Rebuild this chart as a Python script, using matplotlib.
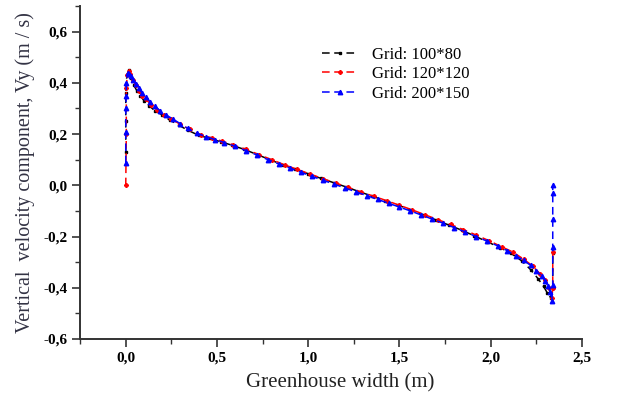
import matplotlib
matplotlib.use("Agg")
import matplotlib.pyplot as plt
from matplotlib.ticker import MultipleLocator, FuncFormatter

# Grid 100*80
x_g1 = [0.0, 0.0, 0.0, 0.006, 0.016, 0.03, 0.045, 0.06, 0.08, 0.10, 0.13, 0.16,
        0.20, 0.24, 0.29, 0.34, 0.40, 0.46, 0.52, 0.58, 0.65, 0.72, 0.79, 0.86,
        0.93, 1.00, 1.07, 1.14, 1.21, 1.28, 1.35, 1.42, 1.49, 1.56, 1.63, 1.70,
        1.77, 1.84, 1.91, 1.98, 2.05, 2.11, 2.17, 2.22, 2.26, 2.29, 2.31, 2.33,
        2.34, 2.34]
y_g1 = [0.13, 0.25, 0.36, 0.43, 0.45, 0.42, 0.39, 0.37, 0.35, 0.33, 0.31, 0.29,
        0.275, 0.255, 0.235, 0.215, 0.195, 0.183, 0.17, 0.157, 0.14, 0.12, 0.10, 0.08,
        0.062, 0.045, 0.027, 0.01, -0.007, -0.025, -0.042, -0.06, -0.077, -0.095,
        -0.115, -0.135, -0.155, -0.175, -0.197, -0.22, -0.243, -0.265, -0.295,
        -0.33, -0.365, -0.395, -0.42, -0.44, -0.40, -0.265]

# Grid 120*120
x_g2 = [0.0, 0.003, 0.003, 0.008, 0.016, 0.025, 0.04, 0.055, 0.07, 0.09, 0.11,
        0.14, 0.17, 0.21, 0.25, 0.30, 0.35, 0.41, 0.47, 0.53, 0.59, 0.66, 0.73,
        0.80, 0.87, 0.94, 1.01, 1.08, 1.15, 1.22, 1.29, 1.36, 1.43, 1.50, 1.57,
        1.64, 1.71, 1.78, 1.85, 1.92, 1.99, 2.06, 2.12, 2.18, 2.23, 2.27, 2.30,
        2.32, 2.335, 2.34, 2.34]
y_g2 = [0.0, 0.20, 0.38, 0.43, 0.445, 0.435, 0.41, 0.39, 0.37, 0.35, 0.335,
        0.315, 0.295, 0.275, 0.258, 0.238, 0.218, 0.198, 0.185, 0.172, 0.158, 0.14,
        0.12, 0.10, 0.08, 0.062, 0.044, 0.026, 0.009, -0.008, -0.026, -0.043, -0.06,
        -0.078, -0.096, -0.115, -0.134, -0.153, -0.173, -0.194, -0.216, -0.24,
        -0.26, -0.288, -0.315, -0.345, -0.37, -0.40, -0.44, -0.40, -0.26]

# Grid 200*150
x_g3 = [0.0, 0.0, 0.0, 0.003, 0.003, 0.012, 0.02, 0.03, 0.04, 0.055, 0.07, 0.09,
        0.11, 0.135, 0.16, 0.19, 0.22, 0.26, 0.30, 0.34, 0.39, 0.44, 0.49, 0.54,
        0.60, 0.66, 0.72, 0.78, 0.84, 0.90, 0.96, 1.02, 1.08, 1.14, 1.20, 1.26,
        1.32, 1.38, 1.44, 1.50, 1.56, 1.62, 1.68, 1.74, 1.80, 1.86, 1.92, 1.98,
        2.04, 2.09, 2.14, 2.18, 2.22, 2.25, 2.28, 2.30, 2.315, 2.325, 2.335,
        2.34, 2.34, 2.34, 2.34, 2.34]
y_g3 = [0.086, 0.21, 0.30, 0.35, 0.40, 0.44, 0.435, 0.425, 0.41, 0.395, 0.378, 0.36,
        0.345, 0.325, 0.308, 0.29, 0.275, 0.258, 0.24, 0.222, 0.203, 0.19, 0.178,
        0.167, 0.152, 0.135, 0.118, 0.10, 0.083, 0.067, 0.051, 0.035, 0.02, 0.005,
        -0.01, -0.025, -0.04, -0.055, -0.07, -0.085, -0.10, -0.116, -0.132, -0.148,
        -0.165, -0.182, -0.2, -0.218, -0.237, -0.255, -0.275, -0.293, -0.313,
        -0.333, -0.355, -0.375, -0.395, -0.415, -0.45, -0.39, -0.24, -0.13, -0.03, 0.0]

labels = ["Grid: 100*80", "Grid: 120*120", "Grid: 200*150"]

plt.rcParams["font.family"] = ["Liberation Serif", "DejaVu Serif"]

fig = plt.figure(figsize=(6.36, 4.0), dpi=100)
ax = fig.add_axes([0.126, 0.1525, 0.789, 0.8325])

dash = (0, (5, 3))
ax.plot(x_g1, y_g1, color="black", linestyle=dash, linewidth=1.1,
        marker="s", markersize=2.0, label=labels[0])
ax.plot(x_g2, y_g2, color="red", linestyle=dash, linewidth=1.1,
        marker="P", markersize=2.6, label=labels[1])
ax.plot(x_g3, y_g3, color="blue", linestyle=dash, linewidth=1.1,
        marker="^", markersize=3.2, label=labels[2])

ax.set_xlim(-0.25, 2.5)
ax.set_ylim(-0.6, 0.7)

for side in ("top", "right"):
    ax.spines[side].set_visible(False)
for side in ("left", "bottom"):
    ax.spines[side].set_linewidth(1.4)
    ax.spines[side].set_color("#333333")

ax.xaxis.set_major_locator(MultipleLocator(0.5))
ax.xaxis.set_minor_locator(MultipleLocator(0.25))
ax.yaxis.set_major_locator(MultipleLocator(0.2))
ax.yaxis.set_minor_locator(MultipleLocator(0.1))

comma = FuncFormatter(lambda v, pos: f"{v:.1f}".replace(".", ",").replace("-0,0", "0,0"))
ax.xaxis.set_major_formatter(comma)
ax.yaxis.set_major_formatter(comma)

ax.tick_params(which="major", direction="out", length=6, width=1.2, color="#333333",
               labelsize=11, pad=3)
ax.tick_params(which="minor", direction="out", length=3.5, width=1.0, color="#333333")
for lbl in ax.get_xticklabels() + ax.get_yticklabels():
    lbl.set_fontweight("bold")

ax.set_xlabel("Greenhouse width (m)", fontsize=15, color="#222222", labelpad=6, x=0.518)
ax.set_ylabel("Vertical  velocity component, Vy (m / s)", fontsize=14.5, color="#333344",
              labelpad=6)

leg = ax.legend(loc="upper left", bbox_to_anchor=(0.452, 0.922), frameon=False,
                fontsize=12, handlelength=2.15, handletextpad=0.85, labelspacing=0.2,
                borderpad=0.4)

fig.savefig("out.png", dpi=100)
